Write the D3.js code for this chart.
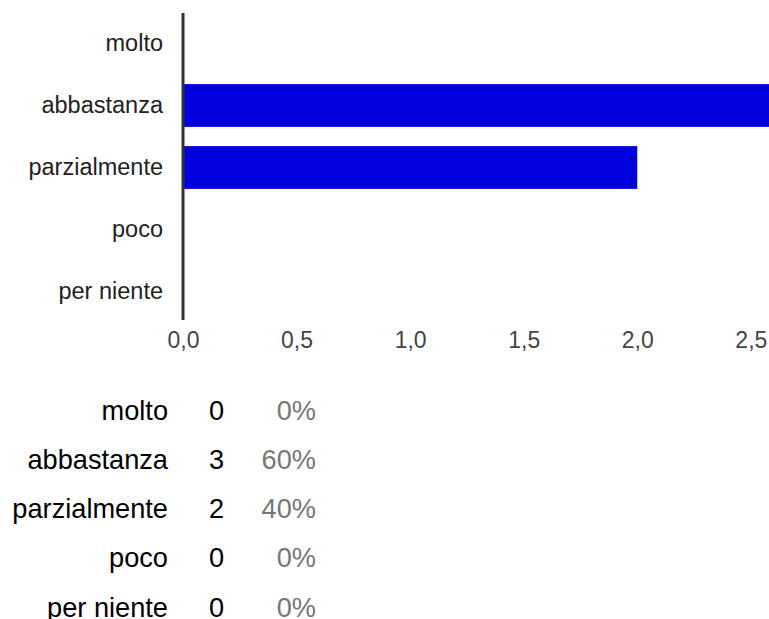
<!DOCTYPE html>
<html>
<head>
<meta charset="utf-8">
<script src="https://cdn.jsdelivr.net/npm/d3@7"></script>
<style>
  body { margin: 0; background: #fff; }
  text { font-family: "Liberation Sans", Arial, sans-serif; }
</style>
</head>
<body>
<div id="chart"></div>
<script>
var categories = ["molto", "abbastanza", "parzialmente", "poco", "per niente"];
var counts = [0, 3, 2, 0, 0];
var percents = ["0%", "60%", "40%", "0%", "0%"];
var xTicks = [0, 0.5, 1, 1.5, 2, 2.5];
var xMax = 2.58;

var width = 769, height = 619;

var svg = d3.select("#chart")
  .append("svg")
    .attr("width", width)
    .attr("height", height);

// bar chart area
var x = d3.scaleLinear().domain([0, xMax]).range([183, width]);
var y = d3.scaleBand().domain(categories).range([12.5, 322.5]).paddingInner(0.31).paddingOuter(0.155);

svg.append("clipPath").attr("id", "plot")
  .append("rect").attr("x", 183).attr("y", 0).attr("width", width - 183).attr("height", 330);

svg.append("g").attr("clip-path", "url(#plot)")
  .selectAll("rect")
  .data(categories)
  .enter()
  .append("rect")
    .attr("x", x(0))
    .attr("y", function(d) { return y(d); })
    .attr("width", function(d, i) { return x(counts[i]) - x(0); })
    .attr("height", y.bandwidth())
    .attr("fill", "#0000dd");

// y axis: labels + plain line
var yAxis = svg.append("g")
  .attr("transform", "translate(163,0)")
  .call(d3.axisLeft(y).tickSize(0).tickPadding(0));
yAxis.select(".domain").remove();
yAxis.selectAll("text")
  .attr("font-size", 23.5)
  .attr("fill", "#222");

svg.append("line")
  .attr("x1", x(0)).attr("x2", x(0))
  .attr("y1", 13).attr("y2", 320)
  .attr("stroke", "#333")
  .attr("stroke-width", 3);

// x axis ticks
var itFormat = d3.formatLocale({decimal: ",", thousands: ".", grouping: [3], currency: ["", "€"]}).format(".1f");
var xAxis = svg.append("g")
  .attr("transform", "translate(0,348)")
  .call(d3.axisBottom(x).tickValues(xTicks).tickFormat(itFormat).tickSize(0).tickPadding(0));
xAxis.select(".domain").remove();
xAxis.selectAll("text")
  .attr("y", 0)
  .attr("dy", 0)
  .attr("font-size", 23)
  .attr("fill", "#444");

// summary table below
var rowY = d3.scalePoint().domain(categories).range([419.5, 616.5]);

var rows = svg.append("g").selectAll("g")
  .data(categories)
  .enter()
  .append("g")
    .attr("transform", function(d) { return "translate(0," + rowY(d) + ")"; });

rows.append("text")
  .attr("x", 168)
  .attr("text-anchor", "end")
  .attr("font-size", 27.2)
  .attr("fill", "#000")
  .text(function(d) { return d; });

rows.append("text")
  .attr("x", 224)
  .attr("text-anchor", "end")
  .attr("font-size", 27.2)
  .attr("fill", "#000")
  .text(function(d, i) { return counts[i]; });

rows.append("text")
  .attr("x", 316)
  .attr("text-anchor", "end")
  .attr("font-size", 27.2)
  .attr("fill", "#777")
  .text(function(d, i) { return percents[i]; });
</script>
</body>
</html>
